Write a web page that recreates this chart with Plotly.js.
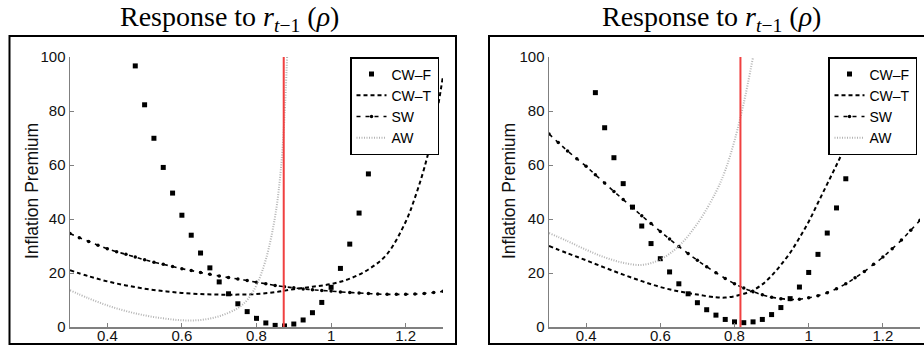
<!DOCTYPE html>
<html>
<head>
<meta charset="utf-8">
<script src="https://cdn.plot.ly/plotly-3.0.1.min.js"></script>
<style>html,body{margin:0;padding:0;background:#fff;}#chart{width:924px;height:353px;}</style>
</head>
<body>
<div id="chart"></div>
<script>
// ---------- data ----------
const panelTitle = "Response to <i>r</i><sub><i>t</i>−1</sub> (<i>ρ</i>)";
const yTitle = "Inflation Premium";
const seriesNames = ["CW–F", "CW–T", "SW", "AW"];
const xTickVals = [0.4, 0.6, 0.8, 1, 1.2];
const xTickText = ["0.4", "0.6", "0.8", "1", "1.2"];
const yTickVals = [0, 20, 40, 60, 80, 100];

// Left panel
const L_cwf_x = [0.475,0.5,0.525,0.55,0.575,0.6,0.625,0.65,0.675,0.7,0.725,0.75,0.775,0.8,0.825,0.85,0.875,0.9,0.925,0.95,0.975,1.0,1.025,1.05,1.075,1.1];
const L_cwf_y = [96.7,82.3,69.9,59.1,49.6,41.4,34.0,27.4,21.9,16.7,12.3,8.6,5.7,3.2,1.5,0.6,0.4,1.1,2.6,5.3,9.1,14.7,21.7,30.7,42.2,56.7];
const L_cwt_x = [0.3,0.35,0.4,0.45,0.5,0.55,0.6,0.65,0.7,0.75,0.8,0.85,0.9,0.95,1.0,1.05,1.1,1.15,1.2,1.225,1.25,1.275,1.3];
const L_cwt_y = [21.0,18.8,16.9,15.4,14.2,13.3,12.6,12.2,12.0,12.0,12.2,12.9,14.0,14.9,15.9,17.9,21.3,27.0,39.0,48.0,59.0,73.0,93.0];
const L_sw_x = [0.3,0.325,0.35,0.375,0.4,0.425,0.45,0.475,0.5,0.525,0.55,0.575,0.6,0.625,0.65,0.675,0.7,0.725,0.75,0.775,0.8,0.825,0.85,0.875,0.9,0.925,0.95,0.975,1.0,1.025,1.05,1.075,1.1,1.125,1.15,1.175,1.2,1.225,1.25,1.275,1.3];
const L_sw_y = [34.6,33.1,31.7,30.3,29.0,27.9,26.9,25.9,24.9,24.0,23.2,22.4,21.6,20.9,20.2,19.5,18.9,18.3,17.8,17.2,16.6,16.0,15.4,14.9,14.5,14.1,13.8,13.5,13.3,13.0,12.8,12.6,12.4,12.2,12.1,12.1,12.1,12.2,12.4,12.8,13.2];
const L_aw_x = [0.3,0.35,0.4,0.45,0.5,0.55,0.6,0.65,0.7,0.75,0.775,0.8,0.825,0.85,0.865,0.875,0.882];
const L_aw_y = [13.6,10.6,8.0,5.9,4.3,3.2,2.5,2.6,4.0,7.0,10.0,15.5,25.0,41.0,58.0,78.0,100.0];
const L_ref_x = [0.873, 0.873];
const L_ref_y = [0, 100];

// Right panel
const R_cwf_x = [0.425,0.45,0.475,0.5,0.525,0.55,0.575,0.6,0.625,0.65,0.675,0.7,0.725,0.75,0.775,0.8,0.825,0.85,0.875,0.9,0.925,0.95,0.975,1.0,1.025,1.05,1.075,1.1,1.125];
const R_cwf_y = [86.8,73.8,62.7,53.1,44.4,37.4,30.9,25.3,20.4,16.0,12.3,9.0,6.4,4.4,2.8,1.9,1.6,1.9,2.8,4.6,7.2,10.5,14.8,20.2,26.9,34.8,44.1,54.9,67.9];
const R_cwt_x = [0.3,0.35,0.4,0.45,0.5,0.55,0.6,0.65,0.7,0.75,0.775,0.8,0.825,0.85,0.875,0.9,0.925,0.95,0.975,1.0,1.025,1.05,1.075,1.1,1.125,1.15,1.16];
const R_cwt_y = [30.0,27.3,24.7,22.0,19.4,17.0,14.8,13.2,12.0,11.0,10.9,11.4,12.3,13.6,15.8,19.0,23.0,27.5,33.0,39.0,46.0,53.0,60.0,67.5,77.0,90.0,100.0];
const R_sw_x = L_sw_x;
const R_sw_y = [71.5,68.3,65.2,62.3,59.5,56.4,53.3,50.2,47.2,44.2,41.2,38.3,35.4,32.6,29.8,27.2,24.7,22.3,20.1,18.0,16.0,14.4,13.1,11.9,11.0,10.5,10.2,10.3,10.8,11.6,12.7,14.2,16.0,18.2,20.6,23.2,25.9,29.0,32.2,35.8,39.5];
const R_aw_x = [0.3,0.35,0.4,0.45,0.5,0.55,0.6,0.65,0.7,0.75,0.775,0.8,0.825,0.85];
const R_aw_y = [34.8,31.8,28.6,25.8,23.8,23.0,25.0,30.0,38.3,50.0,58.0,69.0,83.0,100.0];
const R_ref_x = [0.816, 0.816];
const R_ref_y = [0, 100];

// ---------- styles ----------
const W = 924, H = 353;
const px = v => v / W;
const py = v => 1 - v / H;
const AWC = "#b4b4b4", RED = "#f04040";

function panel(xa, ya, lg, d) {
  return [
    {x: d.cwf_x, y: d.cwf_y, xaxis: xa, yaxis: ya, legend: lg, name: seriesNames[0], type: "scatter", mode: "markers",
     marker: {symbol: "square", size: 5, color: "#000"}},
    {x: d.cwt_x, y: d.cwt_y, xaxis: xa, yaxis: ya, legend: lg, name: seriesNames[1], type: "scatter", mode: "lines",
     line: {color: "#000", width: 2, dash: "4px,3px", shape: "spline"}},
    {x: d.sw_x, y: d.sw_y, xaxis: xa, yaxis: ya, legend: lg, name: seriesNames[2], type: "scatter", mode: "lines+markers",
     line: {color: "#000", width: 1.6, dash: "4px,5px", shape: "spline"}, marker: {symbol: "circle", size: 3.5, color: "#000"}},
    {x: d.aw_x, y: d.aw_y, xaxis: xa, yaxis: ya, legend: lg, name: seriesNames[3], type: "scatter", mode: "lines",
     line: {color: AWC, width: 2, dash: "1px,1.5px", shape: "spline"}},
    {x: d.ref_x, y: d.ref_y, xaxis: xa, yaxis: ya, showlegend: false, type: "scatter", mode: "lines",
     line: {color: RED, width: 2}, hoverinfo: "skip"}
  ];
}

const data = [].concat(
  panel("x", "y", "legend", {cwf_x: L_cwf_x, cwf_y: L_cwf_y, cwt_x: L_cwt_x, cwt_y: L_cwt_y, sw_x: L_sw_x, sw_y: L_sw_y, aw_x: L_aw_x, aw_y: L_aw_y, ref_x: L_ref_x, ref_y: L_ref_y}),
  panel("x2", "y2", "legend2", {cwf_x: R_cwf_x, cwf_y: R_cwf_y, cwt_x: R_cwt_x, cwt_y: R_cwt_y, sw_x: R_sw_x, sw_y: R_sw_y, aw_x: R_aw_x, aw_y: R_aw_y, ref_x: R_ref_x, ref_y: R_ref_y})
);

const tickFont = {family: "Liberation Sans, Arial, sans-serif", size: 15, color: "#111"};
function xaxis(domain, anchor) {
  return {domain: domain, anchor: anchor, range: [0.3, 1.3], tickvals: xTickVals, ticktext: xTickText,
    showline: true, linecolor: "#808080", linewidth: 1.5, ticks: "inside", ticklen: 4, tickcolor: "#808080", tickwidth: 1,
    showgrid: false, zeroline: false, tickfont: tickFont, fixedrange: true, ticklabelstandoff: -6};
}
function yaxis(anchor) {
  return {domain: [py(327), py(57)], anchor: anchor, range: [0, 100], tickvals: yTickVals,
    showline: true, linecolor: "#808080", linewidth: 1.5, ticks: "inside", ticklen: 4, tickcolor: "#808080", tickwidth: 1,
    showgrid: false, zeroline: false, tickfont: tickFont, fixedrange: true};
}
function legend(xr) {
  return {x: px(xr), y: py(57), xanchor: "right", yanchor: "top", xref: "paper", yref: "paper",
    bgcolor: "#fff", bordercolor: "#000", borderwidth: 1.5, itemwidth: 30, tracegroupgap: 0,
    font: {family: "Liberation Sans, Arial, sans-serif", size: 14, color: "#000"}};
}

const titleFont = {family: "Liberation Serif, DejaVu Serif, serif", size: 28, color: "#000"};
const yTitleFont = {family: "Liberation Sans, Arial, sans-serif", size: 17.5, color: "#111"};
const layout = {
  width: W, height: H, margin: {l: 0, r: 0, t: 0, b: 0},
  paper_bgcolor: "#fff", plot_bgcolor: "#fff", showlegend: true,
  xaxis: xaxis([px(70), px(443)], "y"),
  yaxis: yaxis("x"),
  xaxis2: xaxis([px(549), px(920)], "y2"),
  yaxis2: yaxis("x2"),
  legend: legend(439),
  legend2: legend(917),
  annotations: [
    {text: panelTitle, xref: "paper", yref: "paper", x: px(229), y: py(18), xanchor: "center", yanchor: "middle", showarrow: false, font: titleFont},
    {text: panelTitle, xref: "paper", yref: "paper", x: px(711), y: py(18), xanchor: "center", yanchor: "middle", showarrow: false, font: titleFont},
    {text: yTitle, xref: "paper", yref: "paper", x: px(32), y: py(191), xanchor: "center", yanchor: "middle", textangle: -90, showarrow: false, font: yTitleFont},
    {text: yTitle, xref: "paper", yref: "paper", x: px(509), y: py(191), xanchor: "center", yanchor: "middle", textangle: -90, showarrow: false, font: yTitleFont}
  ],
  shapes: [
    {type: "rect", xref: "paper", yref: "paper", x0: px(9.5), x1: px(456), y0: py(344), y1: py(36), line: {color: "#000", width: 2}},
    {type: "rect", xref: "paper", yref: "paper", x0: px(489), x1: px(935), y0: py(344), y1: py(36), line: {color: "#000", width: 2}}
  ]
};

Plotly.newPlot("chart", data, layout, {displayModeBar: false, staticPlot: true});
</script>
</body>
</html>
